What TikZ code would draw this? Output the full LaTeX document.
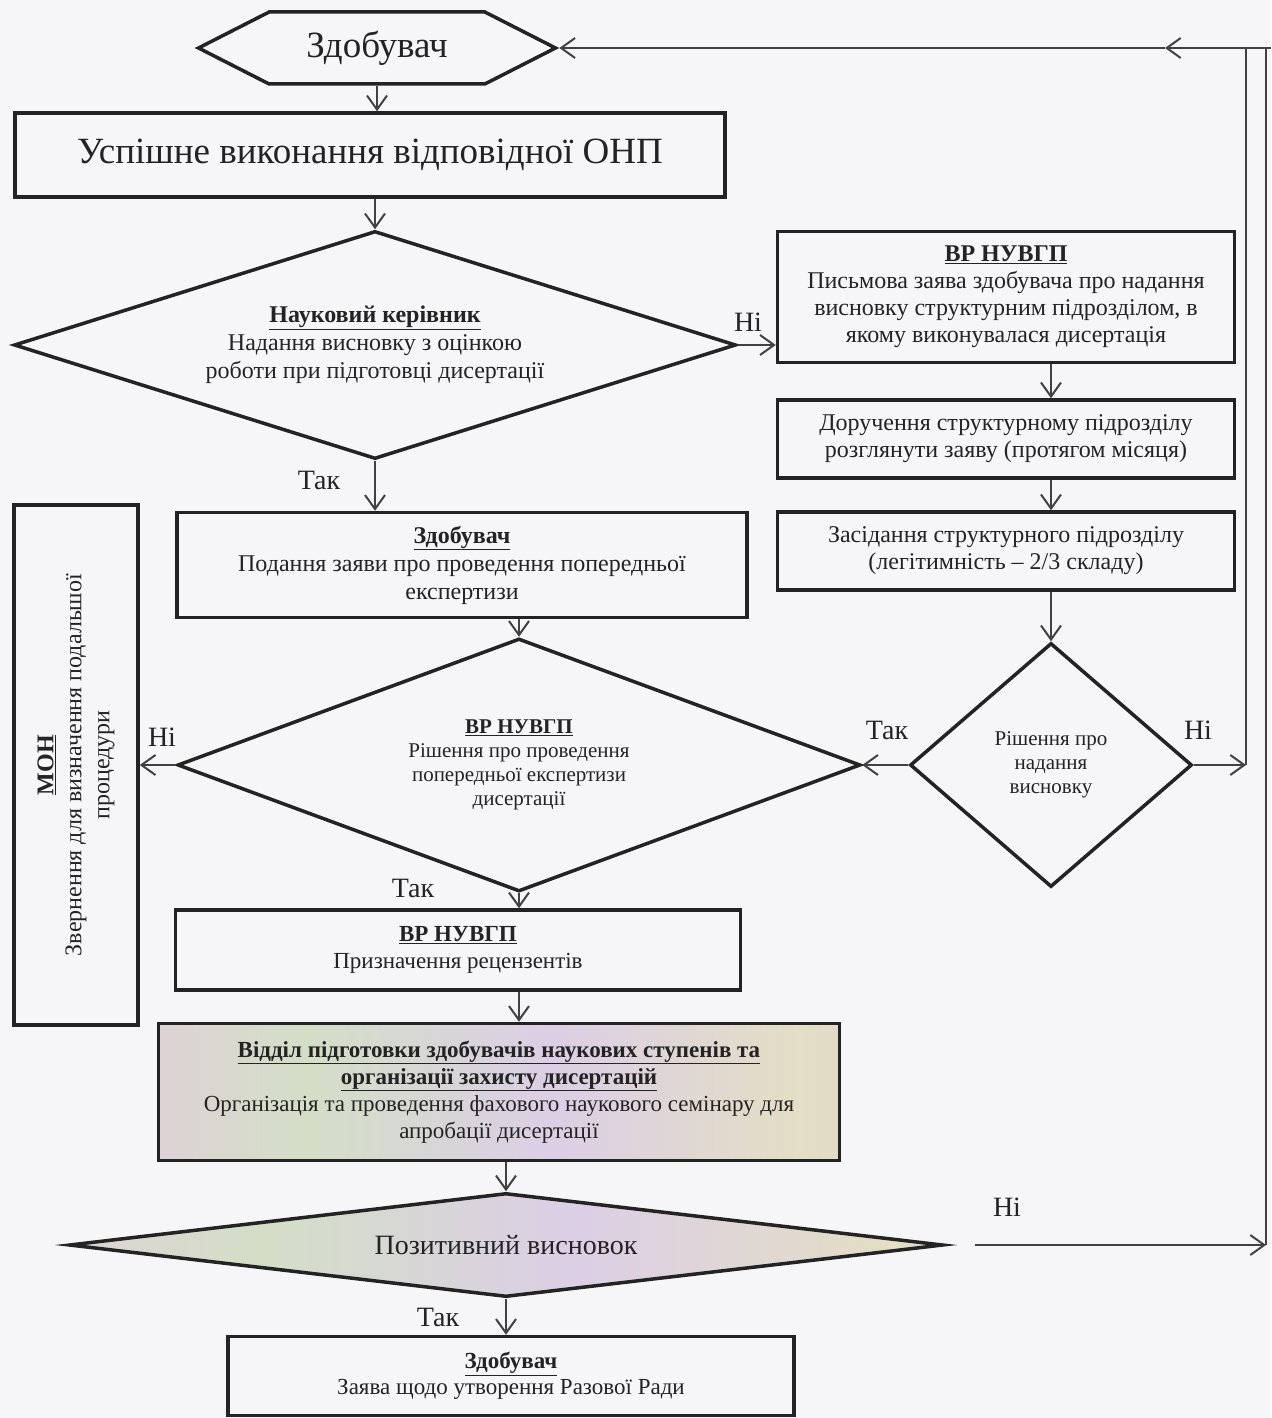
\documentclass[tikz,border=0pt]{standalone}
\usepackage{fontspec}
\setmainfont{Liberation Serif}
\usetikzlibrary{arrows.meta,shapes.geometric,shapes.symbols}
\definecolor{bg}{RGB}{246,246,248}
\definecolor{linec}{RGB}{35,35,35}
\definecolor{arrc}{RGB}{65,65,65}
\definecolor{txtc}{RGB}{35,35,35}
\pgfdeclarehorizontalshading{iris}{100bp}{rgb(0bp)=(0.80,0.86,0.76); rgb(18bp)=(0.89,0.80,0.87); rgb(36bp)=(0.83,0.87,0.78); rgb(54bp)=(0.86,0.81,0.90); rgb(72bp)=(0.89,0.87,0.77); rgb(90bp)=(0.84,0.80,0.88); rgb(100bp)=(0.82,0.86,0.80)}
\newcommand\fz[2]{\fontsize{#1}{#2}\selectfont}
\newcommand\ttl[1]{\underline{\textbf{#1}}}
\begin{document}
\begin{tikzpicture}[x=1pt,y=-1pt,
  box/.style={draw=linec, line width=3.5pt, rectangle, align=center, inner sep=0pt, text=txtc},
  dia/.style={draw=linec, line width=3.5pt, diamond, inner sep=0pt},
  arr/.style={draw=arrc, line width=2pt, -{Straight Barb[length=14pt,width=20pt,line width=2pt]}},
  conn/.style={draw=arrc, line width=2pt},
  thin/.style={draw=arrc, line width=1.5pt},
  lbl/.style={font=\fz{28}{30}, inner sep=0pt, text=txtc},
  txt/.style={align=center, inner sep=0pt, text=txtc}]
\fill[bg] (0,0) rectangle (1271,1418);
\useasboundingbox (0,0) rectangle (1271,1418);

% nodes
\node[draw=linec, line width=3.5pt, signal, signal to=west and east, signal pointer angle=54,
      minimum width=357pt, minimum height=72pt, inner sep=0pt, font=\fz{37}{40}, text=txtc] (hex) at (377,48) {Здобувач};
\node[box, minimum width=710pt, minimum height=84pt, font=\fz{37}{40}] (onp) at (370,155) {Успішне виконання відповідної ОНП};
\node[dia, minimum width=722pt, minimum height=228pt] (d1) at (375,345) {};
\node[txt, font=\fz{24}{28}] (t1) at (d1) {\ttl{Науковий керівник}\\Надання висновку з оцінкою\\роботи при підготовці дисертації};

\node[box, minimum width=457pt, minimum height=131pt, font=\fz{24}{27}] (r1) at (1006,297) {\ttl{ВР НУВГП}\\Письмова заява здобувача про надання\\висновку структурним підрозділом, в\\якому виконувалася дисертація};
\node[box, minimum width=457pt, minimum height=78pt, font=\fz{24}{27}] (r2) at (1006,439) {Доручення структурному підрозділу\\розглянути заяву (протягом місяця)};
\node[box, minimum width=457pt, minimum height=78pt, font=\fz{24}{27}] (r3) at (1006,551) {Засідання структурного підрозділу\\(легітимність -- 2/3 складу)};
\node[dia, minimum width=282pt, minimum height=244pt] (d2) at (1051,765) {};
\node[txt, font=\fz{21}{24}] (t2) at (d2) {Рішення про\\надання\\висновку};

\node[box, minimum width=570pt, minimum height=105pt, font=\fz{24}{28}] (b1) at (462,565) {\ttl{Здобувач}\\Подання заяви про проведення попередньої\\експертизи};
\node[dia, minimum width=683pt, minimum height=253pt] (d3) at (519,765) {};
\node[txt, font=\fz{21}{24}] (t3) at (d3) {\ttl{ВР НУВГП}\\Рішення про проведення\\попередньої експертизи\\дисертації};

\node[box, minimum width=124pt, minimum height=520pt] (mon) at (76,765) {};
\node[txt, rotate=90, font=\fz{24}{28}] (tm) at (mon) {\ttl{МОН}\\Звернення для визначення подальшої\\процедури};

\node[box, minimum width=565pt, minimum height=80pt, font=\fz{23}{27}] (b2) at (458,950) {\ttl{ВР НУВГП}\\Призначення рецензентів};
\node[box, shade, shading=iris, minimum width=681pt, minimum height=137pt, font=\fz{23}{27}] (grad) at (499,1092) {\ttl{Відділ підготовки здобувачів наукових ступенів та}\\\ttl{організації захисту дисертацій}\\Організація та проведення фахового наукового семінару для\\апробації дисертації};
\node[dia, shade, shading=iris, minimum width=874pt, minimum height=104pt] (d4) at (506,1245) {};
\node[txt, font=\fz{28}{30}] (t4) at (d4) {Позитивний висновок};
\node[box, minimum width=566pt, minimum height=79pt, font=\fz{23}{26}] (b3) at (511,1376) {\ttl{Здобувач}\\Заява щодо утворення Разової Ради};

% helper coordinates
\coordinate (ctop) at (1271,48);
\coordinate (cmid) at (1165,48);
\coordinate (cin) at (1246,765);
\coordinate (cout) at (1266,1245);
\coordinate (nstart) at (975,1245);

% connectors
\draw[arr] (hex.south) -- (hex.south |- onp.north);
\draw[arr] (onp.south -| d1.north) -- (d1.north);
\draw[arr] (d1.east) -- (d1.east -| r1.west);
\draw[arr] (d1.south) -- (d1.south |- b1.north);
\draw[arr] (d2.north |- r1.south) -- (d2.north |- r2.north);
\draw[arr] (d2.north |- r2.south) -- (d2.north |- r3.north);
\draw[arr] (d2.north |- r3.south) -- (d2.north);
\draw[arr] (d2.west) -- (d3.east);
\draw[arr] (d2.east) -- (cin);
\draw[thin] (cin) -- (cin |- ctop);
\draw[arr] (d3.north |- b1.south) -- (d3.north);
\draw[arr] (d3.west) -- (d3.west -| mon.east);
\draw[arr] (d3.south) -- (d3.south |- b2.north);
\draw[arr] (d3.south |- b2.south) -- (d3.south |- grad.north);
\draw[arr] (d4.north |- grad.south) -- (d4.north);
\draw[arr] (d4.south) -- (d4.south |- b3.north);
\draw[arr] (nstart) -- (cout);
\draw[thin] (cout) -- (cout |- ctop);
\draw[arr, line width=2.5pt] (ctop) -- (cmid);
\draw[arr, line width=2.5pt] (cmid) -- (hex.east);

% labels
\node[lbl] (l1) at (748,322) {Ні};
\node[lbl] (l2) at (319,480) {Так};
\node[lbl] (l3) at (162,737) {Ні};
\node[lbl] (l4) at (887,730) {Так};
\node[lbl] (l5) at (1198,730) {Ні};
\node[lbl] (l6) at (413,888) {Так};
\node[lbl] (l7) at (1007,1207) {Ні};
\node[lbl] (l8) at (438,1317) {Так};
\end{tikzpicture}
\end{document}
